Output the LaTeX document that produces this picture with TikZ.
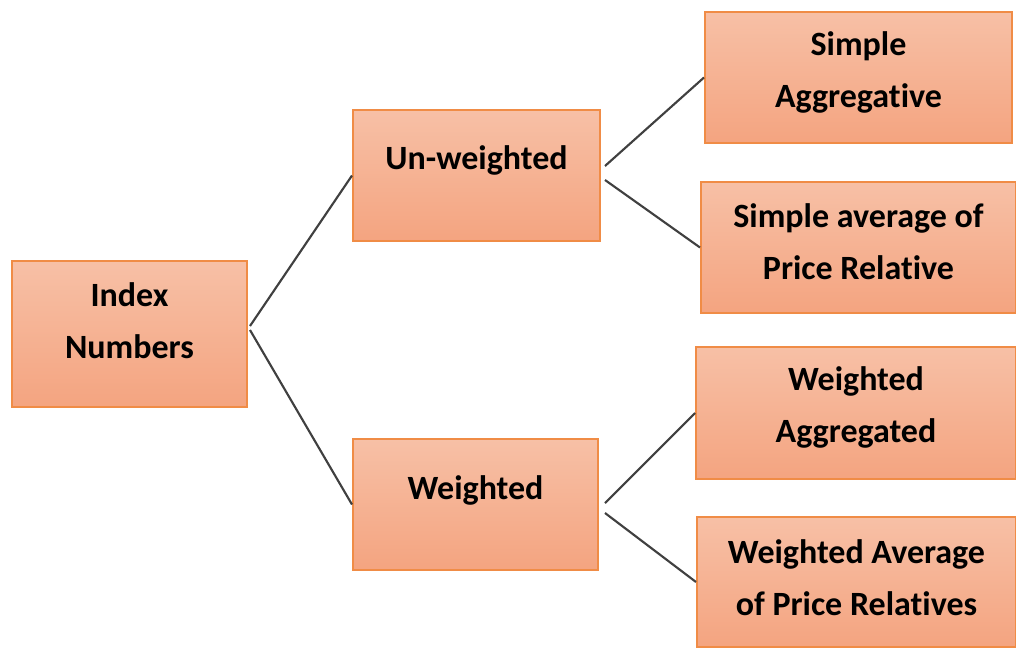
\documentclass[tikz,border=0pt]{standalone}
\usepackage{fontspec}
\setmainfont{Carlito}[Ligatures=NoCommon]
\usetikzlibrary{calc,positioning}
\definecolor{boxtop}{RGB}{247,192,166}
\definecolor{boxbottom}{RGB}{244,164,128}
\definecolor{boxedge}{RGB}{240,140,70}
\definecolor{linkgray}{RGB}{64,64,64}
\tikzset{tier/.style={rectangle, draw=boxedge, line width=1.5pt,
    top color=boxtop, bottom color=boxbottom, inner sep=0pt},
  tiertext/.style={align=center, inner sep=0pt,
    font={\fontsize{25.5}{39}\selectfont\bfseries\color{black}}},
  link/.style={draw=linkgray, line width=1.6pt}}
% name, x, y, width, height, text y, text
\newcommand\tierbox[7]{
  \node[tier, minimum width=#4, minimum height=#5] (#1) at (#2,#3) {};
  \node[tiertext] (#1-txt) at (#2,#6) {#7};
}

\begin{document}
\begin{tikzpicture}[x=0.75pt,y=-0.75pt]
  \useasboundingbox (0,0) rectangle (1016,647);

  %% root
  \tierbox{idx}{129.5}{334}{176.25pt}{109.5pt}{321}{Index\\ Numbers}

  %% second level
  \tierbox{unw}{476.5}{175.5}{185.25pt}{98.25pt}{160}{Un-weighted}
  \tierbox{wtd}{475.5}{504.5}{183.75pt}{98.25pt}{490}{Weighted}

  %% leaves
  \tierbox{sag}{858.5}{77.5}{230.25pt}{98.25pt}{72}{Simple\\ Aggregative}
  \tierbox{sav}{858.5}{247.5}{236.25pt}{98.25pt}{242}{Simple average of\\ Price Relative}
  \tierbox{wag}{856}{413}{240pt}{99pt}{407.5}{Weighted\\ Aggregated}
  \tierbox{wav}{856.5}{582}{239.25pt}{97.5pt}{577.5}{Weighted Average\\ of Price Relatives}

  % branch points
  \coordinate (idx-a) at ($(idx.east)+(2,-8)$);
  \coordinate (idx-b) at ($(idx.east)+(2,-4)$);
  \coordinate (unw-a) at ($(unw.east)+(4,-9.5)$);
  \coordinate (unw-b) at ($(unw.east)+(4,4.5)$);
  \coordinate (wtd-a) at ($(wtd.east)+(6,-1.5)$);
  \coordinate (wtd-b) at ($(wtd.east)+(6,8.5)$);

  \draw[link] (idx-a) -- (unw.west);
  \draw[link] (idx-b) -- (wtd.west);
  \draw[link] (unw-a) -- (sag.west);
  \draw[link] (unw-b) -- (sav.west);
  \draw[link] (wtd-a) -- (wag.west);
  \draw[link] (wtd-b) -- (wav.west);

\end{tikzpicture}
\end{document}
